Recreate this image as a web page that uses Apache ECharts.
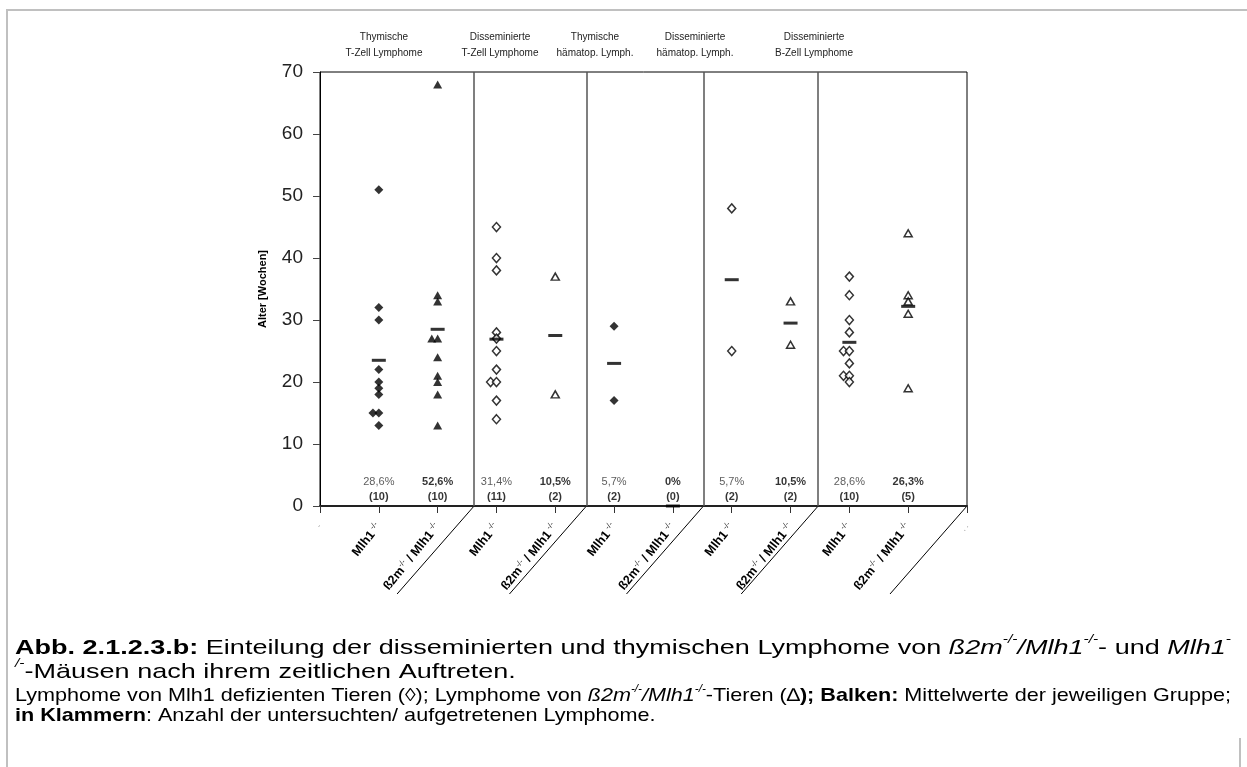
<!DOCTYPE html>
<html>
<head>
<meta charset="utf-8">
<script src="https://cdn.jsdelivr.net/npm/echarts@6/dist/echarts.min.js"></script>
<style>
html,body{margin:0;padding:0;background:#fff;}
#chart{width:1247px;height:767px;}
</style>
</head>
<body>
<div id="chart"></div>
<script>
// ---- data ----
const groupTitles = [
  ['Thymische', 'T-Zell Lymphome'],
  ['Disseminierte', 'T-Zell Lymphome'],
  ['Thymische', 'hämatop. Lymph.'],
  ['Disseminierte', 'hämatop. Lymph.'],
  ['Disseminierte', 'B-Zell Lymphome']
];
const mlh1Values = [
  [51, 32, 30, 22, 20, 19, 18, 15, 15, 13],
  [45, 40, 38, 28, 27, 25, 22, 20, 20, 17, 14],
  [29, 17],
  [48, 25],
  [37, 34, 30, 28, 25, 25, 23, 21, 21, 20]
];
const b2mValues = [
  [68, 34, 33, 27, 27, 24, 21, 20, 18, 13],
  [37, 18],
  [],
  [33, 26],
  [44, 34, 33, 31, 19]
];
const mlh1Pct = ['28,6%', '31,4%', '5,7%', '5,7%', '28,6%'];
const b2mPct = ['52,6%', '10,5%', '0%', '10,5%', '26,3%'];
const dividers = [2.62, 4.53, 6.52, 8.47];
const yTicks = [0, 10, 20, 30, 40, 50, 60, 70];
const genotypeLabels = ['{b|Mlh1}{s| -/-}', '{b|ß2m}{s|-/-}{b| / Mlh1}{s| -/-}'];

// caption lines: [style, text] pieces
const captionLines = [
  [['b', 'Abb. 2.1.2.3.b:'], ['n', ' Einteilung der disseminierten und thymischen Lymphome von '], ['i', 'ß2m'], ['si', '-/-'], ['i', '/Mlh1'], ['si', '-/-'], ['n', '- und '], ['i', 'Mlh1'], ['si', '-']],
  [['si', '/-'], ['n', '-Mäusen nach ihrem zeitlichen Auftreten.']],
  [['sn', 'Lymphome von Mlh1 defizienten Tieren (◊); Lymphome von '], ['si2', 'ß2m'], ['ss', '-/-'], ['si2', '/Mlh1'], ['ss', '-/-'], ['sn', '-Tieren (∆'], ['sb', ');'], ['sn', ' '], ['sb', 'Balken:'], ['sn', ' Mittelwerte der jeweiligen Gruppe;']],
  [['sb', 'in Klammern'], ['sn', ': Anzahl der untersuchten/ aufgetretenen Lymphome.']]
];

// ---- build ----
const FAM = '"Liberation Sans", Arial, sans-serif';
const FONT = FAM;
const filledDia = [], openDia = [], filledTri = [], openTri = [], means = [], labelPts = [];
function addPoints(vals, x, target) {
  const cnt = {};
  vals.forEach(v => { cnt[v] = (cnt[v] || 0) + 1; });
  const seen = {};
  vals.forEach(v => {
    seen[v] = (seen[v] || 0) + 1;
    const shift = (cnt[v] > 1 && seen[v] < cnt[v]) ? -0.1 * (cnt[v] - seen[v]) : 0;
    target.push([x + shift, v]);
  });
}
groupTitles.forEach((t, g) => {
  const thymic = t[0] === 'Thymische';
  const x1 = 2 * g + 1, x2 = 2 * g + 2;
  addPoints(mlh1Values[g], x1, thymic ? filledDia : openDia);
  addPoints(b2mValues[g], x2, thymic ? filledTri : openTri);
  const m = a => a.length ? a.reduce((s, v) => s + v, 0) / a.length : 0;
  means.push([x1, m(mlh1Values[g])]);
  means.push([x2, m(b2mValues[g])]);
  labelPts.push({value: [x1, 0], pct: mlh1Pct[g], n: mlh1Values[g].length, bold: false});
  labelPts.push({value: [x2, 0], pct: b2mPct[g], n: b2mValues[g].length, bold: true});
});

const chart = echarts.init(document.getElementById('chart'));
const option = {
  animation: false,
  backgroundColor: '#fff',
  textStyle: {fontFamily: FONT},
  grid: {left: 320, right: 280, top: 72, bottom: 261, show: true, borderColor: '#000', borderWidth: 1},
  xAxis: {
    type: 'value', min: 0, max: 11, interval: 1,
    splitLine: {show: false},
    axisLine: {show: true, onZero: false, lineStyle: {color: '#222', width: 2}},
    axisTick: {show: true, length: 7, lineStyle: {color: '#333', width: 1}},
    axisLabel: {
      rotate: 51, margin: 19, color: '#000', fontFamily: FONT,
      formatter: v => {
        if (v >= 1 && v <= 10) return genotypeLabels[(v - 1) % 2];
        if (v === 0) return '{g|-}';
        if (v === 11) return '{g|. .}';
        return '';
      },
      rich: {
        b: {fontSize: 12.5, fontWeight: 'bold', color: '#000', fontFamily: FONT, lineHeight: 15},
        s: {fontSize: 8, color: '#000', fontFamily: FONT, verticalAlign: 'top', lineHeight: 8},
        g: {fontSize: 8, color: '#888', fontFamily: FONT}
      }
    }
  },
  yAxis: {
    type: 'value', min: 0, max: 70, interval: 10,
    name: 'Alter [Wochen]', nameLocation: 'middle', nameGap: 52, nameRotate: 90,
    nameTextStyle: {fontSize: 11, fontWeight: 'bold', color: '#000', fontFamily: FONT},
    splitLine: {show: false},
    axisLine: {show: true, lineStyle: {color: '#000', width: 1}},
    axisTick: {show: true, length: 7, lineStyle: {color: '#444'}},
    axisLabel: {fontSize: 19, color: '#222', margin: 17, fontFamily: FONT,
      formatter: v => yTicks.includes(v) ? String(v) : ''}
  },
  series: [
    {
      type: 'scatter', name: 'filledDia', data: filledDia, symbol: 'diamond', symbolSize: [9, 9],
      itemStyle: {color: '#000'}, z: 3,
      markLine: {
        silent: true, symbol: ['none', 'none'], label: {show: false},
        lineStyle: {color: '#555', width: 1.5, type: 'solid'},
        data: dividers.map(d => ({xAxis: d}))
      }
    },
    {type: 'scatter', name: 'openDia', data: openDia, symbol: 'diamond', symbolSize: [8, 9],
      itemStyle: {color: '#fff', borderColor: '#000', borderWidth: 1.5}, z: 3},
    {type: 'scatter', name: 'filledTri', data: filledTri, symbol: 'triangle', symbolSize: [9, 8],
      itemStyle: {color: '#000'}, z: 3},
    {type: 'scatter', name: 'openTri', data: openTri, symbol: 'triangle', symbolSize: [8, 7],
      itemStyle: {color: '#fff', borderColor: '#000', borderWidth: 1.5}, z: 3},
    {type: 'scatter', name: 'mean', data: means, symbol: 'rect', symbolSize: [14, 3],
      itemStyle: {color: '#000'}, z: 4},
    {
      type: 'scatter', name: 'labels', data: labelPts, symbolSize: 0, silent: true, z: 5,
      label: {
        show: true, position: 'top', distance: 2,
        formatter: p => (p.data.bold ? '{pb|' : '{pn|') + p.data.pct + '}\n{c|(' + p.data.n + ')}',
        rich: {
          pn: {fontSize: 11, color: '#333', fontFamily: FONT, lineHeight: 15, align: 'center'},
          pb: {fontSize: 11, color: '#000', fontWeight: 'bold', fontFamily: FONT, lineHeight: 15, align: 'center'},
          c: {fontSize: 11, color: '#000', fontWeight: 'bold', fontFamily: FONT, lineHeight: 15, align: 'center'}
        }
      }
    }
  ]
};
chart.setOption(option);

// ---- annotations ----
const g = [];
// frame
g.push({type: 'line', shape: {x1: 7, y1: 10, x2: 7, y2: 767}, style: {stroke: '#c0c0c0', lineWidth: 2}});
g.push({type: 'line', shape: {x1: 6, y1: 10, x2: 1247, y2: 10}, style: {stroke: '#c0c0c0', lineWidth: 2}});
g.push({type: 'line', shape: {x1: 1240, y1: 738, x2: 1240, y2: 767}, style: {stroke: '#c0c0c0', lineWidth: 2}});
// diagonal guide lines below the axis
dividers.concat([11]).forEach(d => {
  const p = chart.convertToPixel({gridIndex: 0}, [d, 0]);
  g.push({type: 'line', shape: {x1: p[0], y1: p[1], x2: p[0] - 77, y2: p[1] + 88},
    style: {stroke: '#000', lineWidth: 1}});
});
// headers
const headerX = [384, 500, 595, 695, 814];
groupTitles.forEach((t, i) => {
  g.push({type: 'text', x: headerX[i], y: 37, style: {text: t[0], font: '10px ' + FONT, fill: '#222', align: 'center', verticalAlign: 'middle'}});
  g.push({type: 'text', x: headerX[i], y: 53, style: {text: t[1], font: '10px ' + FONT, fill: '#222', align: 'center', verticalAlign: 'middle'}});
});

// caption: first line of each paragraph stretched to full width; the
// following line uses the same horizontal stretch
const capStyles = {
  b: {font: 'normal bold 21px ' + FAM, dy: 0},
  n: {font: 'normal normal 21px ' + FAM, dy: 0},
  i: {font: 'italic normal 21px ' + FAM, dy: 0},
  si: {font: 'italic normal 12px ' + FAM, dy: -8},
  sb: {font: 'normal bold 18.5px ' + FAM, dy: 0},
  sn: {font: 'normal normal 18.5px ' + FAM, dy: 0},
  si2: {font: 'italic normal 18.5px ' + FAM, dy: 0},
  ss: {font: 'italic normal 10px ' + FAM, dy: -7}
};
const lineLayout = [
  {y: 648, fit: true}, {y: 672, fit: false}, {y: 696, fit: true}, {y: 716, fit: false}
];
const X0 = 15, X1 = 1231;
const ctx = document.createElement('canvas').getContext('2d');
function measure(style, text) { ctx.font = capStyles[style].font; return ctx.measureText(text).width; }
let scale = 1;
captionLines.forEach((pieces, li) => {
  const natural = pieces.reduce((s, [st, t]) => s + measure(st, t), 0);
  if (lineLayout[li].fit) scale = (X1 - X0) / natural;
  let off = 0;
  pieces.forEach(([st, t]) => {
    g.push({type: 'text', x: X0 + off * scale, y: lineLayout[li].y + capStyles[st].dy, scaleX: scale,
      style: {text: t, font: capStyles[st].font, fill: '#000', align: 'left', verticalAlign: 'middle'}});
    off += measure(st, t);
  });
});
chart.setOption({graphic: g});
</script>
</body>
</html>
